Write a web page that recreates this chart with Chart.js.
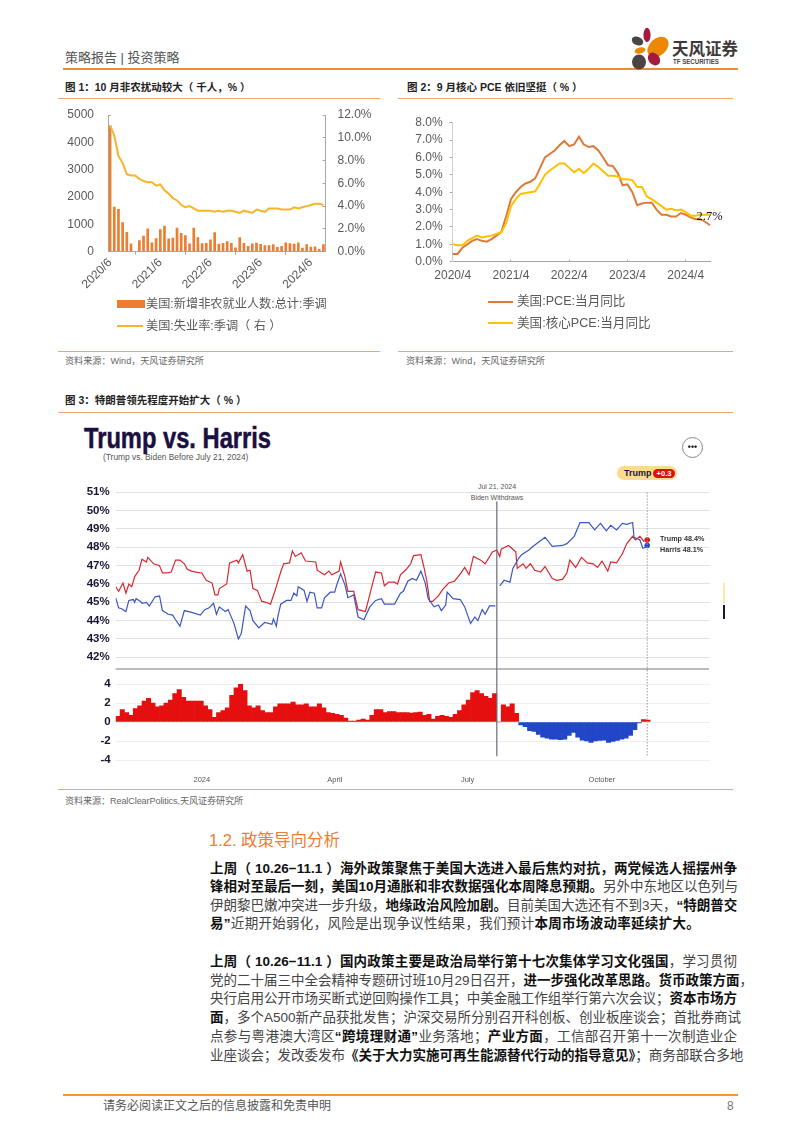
<!DOCTYPE html>
<html lang="zh"><head><meta charset="utf-8">
<script src="https://cdn.jsdelivr.net/npm/chart.js@4"></script>
<style>
html,body{margin:0;padding:0;background:#fff}
#page{position:relative;width:802px;height:1133px;overflow:hidden;background:#fff;font-family:"Liberation Sans","Noto Sans CJK SC",sans-serif}
canvas{position:absolute}
.t{position:absolute;white-space:nowrap;line-height:1}
.r{position:absolute;height:1px}
.body{position:absolute;left:210px;width:527px;font-size:13.5px;line-height:18px;height:18px;color:#444;text-align:justify;text-align-last:justify;white-space:nowrap}
.body b{color:#111;font-weight:700}
</style></head><body><div id="page">
<div class="t" style="left:65px;top:51px;font-size:13px;color:#555">策略报告 | 投资策略</div>
<div class="r" style="left:63px;top:67.5px;width:675px;height:2px;background:#EE8C34"></div>
<svg style="position:absolute;left:628px;top:24px" width="50" height="50" viewBox="0 0 50 50">
<ellipse cx="9.5" cy="17" rx="6" ry="4.2" fill="#4a4544" transform="rotate(25 9.5 17)"/>
<ellipse cx="19" cy="11" rx="3.6" ry="7.2" fill="#a81a3c"/>
<ellipse cx="30" cy="23" rx="8.5" ry="12" fill="#EE8606" transform="rotate(48 30 23)"/>
<ellipse cx="12" cy="26.5" rx="5.5" ry="3" fill="#EE8606" transform="rotate(-12 12 26.5)"/>
<ellipse cx="11" cy="38" rx="7" ry="7.4" fill="#4a4544"/>
<ellipse cx="26" cy="35" rx="5.5" ry="7" fill="#a81a3c" transform="rotate(-40 26 35)"/>
</svg>
<div class="t" style="left:672px;top:41px;font-size:16.5px;font-weight:700;color:#3f3a39">天风证券</div>
<div class="t" style="left:673px;top:58px;font-size:7.2px;font-weight:700;color:#4a4544;transform:scaleX(.85);transform-origin:0 0">TF SECURITIES</div>

<div class="t" style="left:65px;top:82px;font-size:10.5px;font-weight:700;color:#222">图 1：10 月非农扰动较大（ 千人，% ）</div>
<div class="r" style="left:58px;top:98px;width:322px;background:#F2A66C"></div>
<div class="t" style="left:407px;top:82px;font-size:10.5px;font-weight:700;color:#222">图 2：9 月核心 PCE 依旧坚挺（ % ）</div>
<div class="r" style="left:398px;top:98px;width:335px;background:#F2A66C"></div>

<canvas id="c1" width="330" height="195" style="left:50px;top:105px"></canvas>
<canvas id="c2" width="340" height="180" style="left:400px;top:110px"></canvas>

<div class="r" style="left:116.5px;top:300px;width:28px;height:8px;background:#ED7D31"></div>
<div class="t" style="left:146px;top:298px;font-size:12.2px;color:#595959">美国:新增非农就业人数:总计:季调</div>
<div class="r" style="left:117px;top:325px;width:26px;height:2px;background:#F7B52C"></div>
<div class="t" style="left:146px;top:320px;font-size:12.2px;color:#595959">美国:失业率:季调（ 右 ）</div>

<div class="t" style="left:696.5px;top:209.5px;font-family:'Liberation Serif',serif;font-size:12.5px;color:#111">2.7%</div>
<div class="r" style="left:488px;top:300.5px;width:25px;height:2px;background:#DD7A3A"></div>
<div class="t" style="left:517px;top:295px;font-size:12.6px;color:#595959">美国:PCE:当月同比</div>
<div class="r" style="left:488px;top:322px;width:25px;height:2px;background:#FFC000"></div>
<div class="t" style="left:517px;top:317px;font-size:12.6px;color:#595959">美国:核心PCE:当月同比</div>

<div class="r" style="left:58px;top:351px;width:322px;background:#F2A66C"></div>
<div class="r" style="left:398px;top:351px;width:335px;background:#F2A66C"></div>
<div class="t" style="left:65px;top:357px;font-size:9.1px;color:#666">资料来源：Wind，天风证券研究所</div>
<div class="t" style="left:406px;top:357px;font-size:9.1px;color:#666">资料来源：Wind，天风证券研究所</div>

<div class="t" style="left:65px;top:395px;font-size:10.5px;font-weight:700;color:#222">图 3：特朗普领先程度开始扩大（ % ）</div>
<div class="r" style="left:58px;top:412px;width:675px;background:#F2A66C"></div>

<div class="t" style="left:84px;top:423px;font-size:30px;font-weight:700;color:#1b1040;-webkit-text-stroke:.5px #1b1040;transform:scaleX(.79);transform-origin:0 0">Trump vs. Harris</div>
<div class="t" style="left:103px;top:452.5px;font-size:8.4px;color:#555">(Trump vs. Biden Before July 21, 2024)</div>
<div style="position:absolute;left:682px;top:437px;width:19px;height:19px;border:1px solid #888;border-radius:50%;text-align:center;font-size:9px;line-height:18px;font-weight:700;color:#222">•••</div>
<div style="position:absolute;left:617px;top:466px;width:60px;height:14px;border-radius:7px;background:#FBDC8E"></div>
<div class="t" style="left:624px;top:468.5px;font-size:9px;font-weight:700;color:#1b1040">Trump</div>
<div style="position:absolute;left:653px;top:469px;width:22px;height:9px;border-radius:5px;background:#E00F0F;color:#fff;font-size:7.5px;line-height:9px;text-align:center;font-weight:700">+0.3</div>
<div class="t" style="left:457px;top:483px;width:80px;text-align:center;font-size:7px;color:#555">Jul 21, 2024</div>
<div class="t" style="left:457px;top:493.5px;width:80px;text-align:center;font-size:7px;color:#555">Biden Withdraws</div>

<canvas id="c3" width="680" height="190" style="left:60px;top:480px"></canvas>
<canvas id="c4" width="680" height="115" style="left:60px;top:670px"></canvas>

<div class="t" style="left:660px;top:535px;font-size:7.2px;font-weight:700;color:#333">Trump 48.4%</div>
<div class="t" style="left:660px;top:546px;font-size:7.2px;font-weight:700;color:#333">Harris 48.1%</div>
<div class="r" style="left:723px;top:583px;width:2px;height:21px;background:#FBE7A8"></div>
<div class="r" style="left:723px;top:605px;width:2px;height:14px;background:#1b1040"></div>

<div class="r" style="left:58px;top:789px;width:675px;background:#F2A66C"></div>
<div class="t" style="left:65px;top:797px;font-size:9.1px;letter-spacing:-.1px;color:#666">资料来源：RealClearPolitics,天风证券研究所</div>

<div class="t" style="left:209px;top:832px;font-size:16.5px;color:#ED7D31">1.2. 政策导向分析</div>
<div class="body" style="top:860px"><b>上周（ 10.26−11.1 ）海外政策聚焦于美国大选进入最后焦灼对抗，两党候选人摇摆州争</b></div>
<div class="body" style="top:878px"><b>锋相对至最后一刻，美国10月通胀和非农数据强化本周降息预期。</b>另外中东地区以色列与</div>
<div class="body" style="top:897px">伊朗黎巴嫩冲突进一步升级，<b>地缘政治风险加剧。</b>目前美国大选还有不到3天，<b>“特朗普交</b></div>
<div class="body" style="top:915px;text-align-last:left;letter-spacing:.3px"><b>易”</b>近期开始弱化，风险是出现争议性结果，我们预计<b>本周市场波动率延续扩大。</b></div>
<div class="body" style="top:953px"><b>上周（ 10.26−11.1 ）国内政策主要是政治局举行第十七次集体学习文化强国</b>，学习贯彻</div>
<div class="body" style="top:972px">党的二十届三中全会精神专题研讨班10月29日召开，<b>进一步强化改革思路。货币政策方面</b>，</div>
<div class="body" style="top:990px">央行启用公开市场买断式逆回购操作工具；中美金融工作组举行第六次会议；<b>资本市场方</b></div>
<div class="body" style="top:1009px"><b>面</b>，多个A500新产品获批发售；沪深交易所分别召开科创板、创业板座谈会；首批券商试</div>
<div class="body" style="top:1028px">点参与粤港澳大湾区<b>“跨境理财通”</b>业务落地；<b>产业方面</b>，工信部召开第十一次制造业企</div>
<div class="body" style="top:1047px">业座谈会；发改委发布<b>《关于大力实施可再生能源替代行动的指导意见》</b>；商务部联合多地</div>

<div class="r" style="left:63px;top:1093.5px;width:675px;height:2px;background:#EE9A2E"></div>
<div class="t" style="left:103px;top:1100px;font-size:12px;color:#555">请务必阅读正文之后的信息披露和免责申明</div>
<div class="t" style="left:727px;top:1100px;font-size:12px;color:#777">8</div>
</div>
<script>
// Figure 1
const payrollMonths=['2020/6','2020/7','2020/8','2020/9','2020/10','2020/11','2020/12','2021/1','2021/2','2021/3','2021/4','2021/5','2021/6','2021/7','2021/8','2021/9','2021/10','2021/11','2021/12','2022/1','2022/2','2022/3','2022/4','2022/5','2022/6','2022/7','2022/8','2022/9','2022/10','2022/11','2022/12','2023/1','2023/2','2023/3','2023/4','2023/5','2023/6','2023/7','2023/8','2023/9','2023/10','2023/11','2023/12','2024/1','2024/2','2024/3','2024/4','2024/5','2024/6','2024/7','2024/8','2024/9'];
const payrolls=[4620,1640,1560,1080,720,300,0,420,580,850,340,490,820,950,480,510,880,680,600,300,880,530,310,320,450,710,290,320,380,320,150,530,320,210,300,330,280,240,240,270,170,210,340,310,290,340,140,270,180,190,100,270];
const unemployment=[11.1,10.2,8.4,7.8,6.8,6.7,6.7,6.4,6.2,6.1,6.1,5.8,5.9,5.4,5.1,4.7,4.5,4.1,3.9,4.0,3.8,3.6,3.6,3.6,3.6,3.5,3.6,3.5,3.6,3.6,3.5,3.4,3.6,3.5,3.4,3.7,3.6,3.5,3.8,3.8,3.8,3.7,3.7,3.7,3.9,3.8,3.9,4.0,4.1,4.2,4.2,4.1];
// Figure 2
const pceMonths=['2020/4','2020/5','2020/6','2020/7','2020/8','2020/9','2020/10','2020/11','2020/12','2021/1','2021/2','2021/3','2021/4','2021/5','2021/6','2021/7','2021/8','2021/9','2021/10','2021/11','2021/12','2022/1','2022/2','2022/3','2022/4','2022/5','2022/6','2022/7','2022/8','2022/9','2022/10','2022/11','2022/12','2023/1','2023/2','2023/3','2023/4','2023/5','2023/6','2023/7','2023/8','2023/9','2023/10','2023/11','2023/12','2024/1','2024/2','2024/3','2024/4','2024/5','2024/6','2024/7','2024/8','2024/9'];
const pce=[0.45,0.45,0.8,1.0,1.2,1.3,1.2,1.15,1.3,1.5,1.7,2.6,3.6,4.0,4.3,4.5,4.6,4.8,5.4,6.0,6.2,6.4,6.7,6.95,6.65,6.75,7.2,6.75,6.6,6.65,6.4,6.0,5.55,5.5,5.1,4.4,4.45,4.0,3.25,3.35,3.4,3.4,3.0,2.7,2.7,2.6,2.6,2.8,2.7,2.55,2.45,2.45,2.3,2.1];
const corePce=[1.0,0.95,0.95,1.2,1.35,1.5,1.4,1.45,1.5,1.6,1.7,2.2,3.2,3.6,3.9,3.95,4.0,4.05,4.5,5.0,5.25,5.45,5.65,5.65,5.4,5.15,5.35,5.1,5.35,5.65,5.45,5.2,4.95,4.95,4.9,4.75,4.75,4.7,4.3,4.3,3.75,3.6,3.4,3.2,3.0,3.05,2.95,3.0,2.85,2.65,2.65,2.7,2.7,2.7];
// Figure 3 (days counted from the first reading, early Nov 2023)
const trumpDays=[0,2,5,7,9,11,13,16,18,21,22,26,30,32,35,38,41,44,47,49,52,55,59,62,66,68,70,71,76,78,83,84,87,90,92,94,97,100,103,106,109,113,115,119,121,123,127,130,137,138,143,146,148,153,154,157,159,163,166,171,173,176,178,182,184,187,191,193,195,199,202,204,209,211,213,215,217,221,224,228,232,236,239,242,245,250,253,258,261,263,264,269,274,275,279,281,284,287,291,294,299,302,306,309,311,315,319,323,327,330,333,337,339,343,347,350,354,356,359,362];
const trump=[45.85,45.6,46.05,45.5,46.0,45.85,46.4,46.75,47.35,47.2,47.45,47.1,47.0,46.6,46.6,46.65,47.3,47.3,47.1,46.8,46.7,46.65,46.6,46.2,46.05,45.4,45.4,45.75,46.0,47.15,47.3,47.15,47.6,46.7,46.75,45.75,45.65,45.05,45.0,44.9,45.6,46.65,47.1,47.15,47.8,47.5,47.7,47.25,47.2,46.75,46.5,46.7,46.5,46.7,47.2,46.4,45.6,45.6,44.6,44.5,45.1,46.05,46.65,46.6,45.9,46.1,46.1,46.0,46.5,46.8,47.1,47.55,47.6,46.95,46.2,45.05,45.05,45.35,45.7,46.05,46.15,46.55,46.9,46.5,47.5,47.3,47.1,47.75,47.85,47.5,47.9,48.1,47.75,46.85,47.1,46.85,47.1,46.75,46.65,46.95,46.3,46.2,46.25,46.6,47.3,46.9,47.45,47.15,47.1,46.9,47.25,46.7,47.2,47.15,47.65,48.2,48.6,48.4,48.6,48.3];
const harrisDays=[0,2,4,7,9,12,13,14,17,18,21,23,27,30,32,36,39,41,44,47,52,58,61,64,67,69,71,75,77,81,84,86,89,92,94,98,102,107,108,110,111,113,117,120,122,124,125,129,131,133,136,138,141,143,147,150,151,154,157,159,163,166,170,174,178,182,184,191,195,197,200,203,206,209,212,214,218,221,223,226,227,231,236,239,243,246,248,251,253,256,260,261,263,266,270,272,276,278,283,285,290,294,299,306,309,314,318,324,328,332,336,339,343,347,350,354,355,359,361,363];
const harris=[45.25,44.7,44.65,44.5,45.1,45.15,45.0,45.2,45.05,44.95,45.0,44.8,45.3,45.35,44.55,44.35,44.3,44.05,43.7,44.55,44.45,44.3,44.6,44.7,44.95,44.35,44.75,44.5,44.6,43.85,43.0,43.3,44.8,44.55,44.0,43.6,43.9,43.8,44.1,43.7,44.2,44.9,45.1,45.1,45.5,45.35,45.85,45.65,45.05,45.55,45.5,44.7,44.7,45.25,45.55,45.55,45.85,46.55,45.95,45.25,45.4,44.2,44.05,44.75,45.1,45.2,44.9,44.9,45.5,45.6,46.15,46.3,46.2,46.7,46.05,45.2,44.75,44.85,44.55,44.85,45.55,45.2,45.15,44.75,43.85,44.2,44.0,44.6,44.35,44.8,44.8,null,45.9,46.2,46.1,46.85,47.4,47.6,47.85,48.0,48.3,48.55,48.05,48.1,48.2,48.6,49.35,49.35,48.95,49.3,48.9,49.2,48.95,49.3,49.25,49.35,48.55,48.4,47.95,48.0];
const marginValues=[0.6,1.3,1.0,0.7,1.4,1.7,2.2,2.5,2.0,1.6,1.7,2.0,2.3,3.0,3.4,2.6,2.2,2.2,2.2,2.2,1.7,1.3,0.5,1.0,1.2,1.5,2.8,3.6,4.2,3.3,1.7,1.5,1.7,1.2,1.0,1.0,1.6,1.9,1.9,1.9,2.1,1.8,1.8,1.9,1.6,1.6,1.9,1.5,1.0,0.9,0.8,0.7,0.4,0.1,0.1,0.2,0.3,0.2,0.7,1.3,1.3,1.0,1.1,1.1,1.0,1.0,1.0,0.95,1.0,1.05,0.7,0.8,0.3,0.6,0.7,0.6,0.5,0.8,1.2,1.8,2.3,3.1,3.3,3.0,2.7,2.5,3.0,0,1.8,1.6,1.9,0.9,-0.3,-0.5,-0.9,-1.0,-1.3,-1.6,-1.7,-1.8,-1.8,-1.85,-1.8,-1.4,-1.1,-1.6,-1.9,-2.0,-2.15,-2.0,-1.95,-1.9,-2.15,-2.05,-1.95,-1.8,-1.7,-1.4,-0.8,-0.1,0.25,0.2];
const marginDays=marginValues.map((_,i)=>i*3+1.5);
const dateTickDays=[59,150,241,333];
const dateTickLabels=['2024','April','July','October'];
const withdrawalDay=261, lastDay=364, lastTrump=48.4, lastHarris=48.1;

const FONT='"Liberation Sans","Noto Sans CJK SC",sans-serif';
Chart.defaults.font.family=FONT;
Chart.defaults.animation=false;
Chart.defaults.responsive=false;
Chart.defaults.plugins.legend.display=false;
Chart.defaults.plugins.tooltip.enabled=false;
const fixW=w=>s=>{s.width=w;s.paddingTop=0;s.paddingBottom=0};
const fixH=h=>s=>{s.height=h;s.paddingLeft=0;s.paddingRight=0};
const AXIS='#A6A6A6', TXT='#595959';

new Chart(document.getElementById('c1'),{
 data:{labels:payrollMonths,datasets:[
  {type:'line',data:unemployment,yAxisID:'yR',borderColor:'#F7B52C',borderWidth:2,pointRadius:0,tension:0,order:1},
  {type:'bar',data:payrolls,yAxisID:'y',backgroundColor:'#ED7D31',barPercentage:.64,categoryPercentage:1,order:2}
 ]},
 options:{layout:{padding:{top:10}},scales:{
  x:{offset:true,afterFit:fixH(48.3),border:{color:AXIS},
     grid:{offset:true,drawOnChartArea:false,tickLength:3,color:AXIS},
     ticks:{autoSkip:false,minRotation:45,maxRotation:45,padding:1,color:TXT,font:{size:12},
       callback(v,i){return i%12===0?payrollMonths[i]:null}}},
  y:{min:0,max:5000,afterFit:fixW(58),border:{color:AXIS},
     grid:{drawOnChartArea:false,tickLength:-3,color:AXIS},
     ticks:{stepSize:1000,autoSkip:false,padding:17,color:TXT,font:{size:12},callback:v=>String(v)}},
  yR:{position:'right',min:0,max:12,afterFit:fixW(54.5),border:{color:AXIS},
     grid:{drawOnChartArea:false,tickLength:-3,color:AXIS},
     ticks:{stepSize:2,autoSkip:false,padding:15,color:TXT,font:{size:12},callback:v=>v.toFixed(1)+'%'}}
 }}
});

new Chart(document.getElementById('c2'),{
 type:'line',
 data:{labels:pceMonths,datasets:[
  {data:corePce,borderColor:'#FFC000',borderWidth:2,pointRadius:0,tension:0},
  {data:pce,borderColor:'#DD7A3A',borderWidth:2,pointRadius:0,tension:0}
 ]},
 options:{layout:{padding:{top:12.7,right:30}},scales:{
  x:{offset:false,afterFit:fixH(28.3),border:{color:AXIS},
     grid:{drawOnChartArea:false,tickLength:-2,color:AXIS},
     ticks:{autoSkip:false,maxRotation:0,padding:9,color:TXT,font:{size:12},
       callback(v,i){return i%12===0?pceMonths[i]:null}}},
  y:{min:0,max:8,afterFit:fixW(52.7),border:{color:'#D0D0D0'},
     grid:{drawOnChartArea:false,tickLength:3,color:AXIS},
     ticks:{stepSize:1,autoSkip:false,padding:7,color:TXT,font:{size:12},callback:v=>v.toFixed(1)+'%'}}
 }}
});

const rcpMarks={id:'rcpMarks',afterDraw(ch,_,o){
  const c=ch.ctx,xs=ch.scales.x,ys=ch.scales.y,H=ch.height;
  c.save();
  const top=o.upper?ys.getPixelForValue(50.5):0, bot=o.upper?H:ys.getPixelForValue(-3.6);
  c.strokeStyle='#6d6b7a';c.lineWidth=1.2;
  c.beginPath();c.moveTo(xs.getPixelForValue(withdrawalDay),top);c.lineTo(xs.getPixelForValue(withdrawalDay),bot);c.stroke();
  c.strokeStyle='#999';c.lineWidth=1;c.setLineDash([1.5,1.5]);
  const t2=o.upper?ys.getPixelForValue(51):0;
  c.beginPath();c.moveTo(xs.getPixelForValue(lastDay),t2);c.lineTo(xs.getPixelForValue(lastDay),bot);c.stroke();
  c.setLineDash([]);
  if(o.upper){c.strokeStyle='#777';c.lineWidth=1.2;c.beginPath();c.moveTo(xs.left,H-1);c.lineTo(xs.right-1,H-1);c.stroke();}
  c.restore();
}};
const NAVY='#1b1533';
const pairs=(d,v)=>d.map((x,i)=>({x,y:v[i]}));
const xRange={min:0,max:407};

new Chart(document.getElementById('c3'),{
 type:'line',
 data:{datasets:[
  {data:[{x:lastDay,y:lastTrump}],borderColor:'#E01515',backgroundColor:'#E01515',pointRadius:2.4,showLine:false},
  {data:[{x:lastDay,y:lastHarris}],borderColor:'#1F45C8',backgroundColor:'#1F45C8',pointRadius:2.4,showLine:false},
  {data:pairs(harrisDays,harris),borderColor:'#3A55C2',borderWidth:1.2,pointRadius:0,tension:0,spanGaps:false},
  {data:pairs(trumpDays,trump),borderColor:'#DB2630',borderWidth:1.2,pointRadius:0,tension:0}
 ]},
 options:{layout:{padding:{top:12.3,bottom:12.7,right:30}},
  plugins:{rcpMarks:{upper:true}},
  scales:{
   x:{type:'linear',offset:false,...xRange,display:false},
   y:{min:42,max:51,afterFit:fixW(55.7),border:{display:false},
      grid:{color:'#E2E2E2',drawTicks:false,lineWidth:1},
      ticks:{stepSize:1,autoSkip:false,padding:6,color:NAVY,font:{size:11.5,weight:'bold'},callback:v=>v+'%'}}
  }},
 plugins:[rcpMarks]
});

new Chart(document.getElementById('c4'),{
 type:'bar',
 data:{datasets:[{data:pairs(marginDays,marginValues),
   backgroundColor:marginValues.map(v=>v>=0?'#E60F0F':'#2146C7'),
   barPercentage:1,categoryPercentage:1}]},
 options:{layout:{padding:{top:14,right:30}},
  plugins:{rcpMarks:{upper:false}},
  scales:{
   x:{type:'linear',offset:false,...xRange,afterFit:fixH(25),border:{display:false},
      grid:{display:false,offset:false},
      afterBuildTicks(s){s.ticks=dateTickDays.map(value=>({value}))},
      ticks:{autoSkip:false,maxRotation:0,padding:7,color:'#555',font:{size:7.5},
        callback(v){return dateTickLabels[dateTickDays.indexOf(v)]}}},
   y:{min:-4,max:4,afterFit:fixW(55.7),border:{display:false},
      grid:{color:'#EEEEEE',drawTicks:false},
      ticks:{stepSize:2,autoSkip:false,padding:5,color:NAVY,font:{size:11.5,weight:'bold'}}}
  }},
 plugins:[rcpMarks]
});
</script>
</body></html>
